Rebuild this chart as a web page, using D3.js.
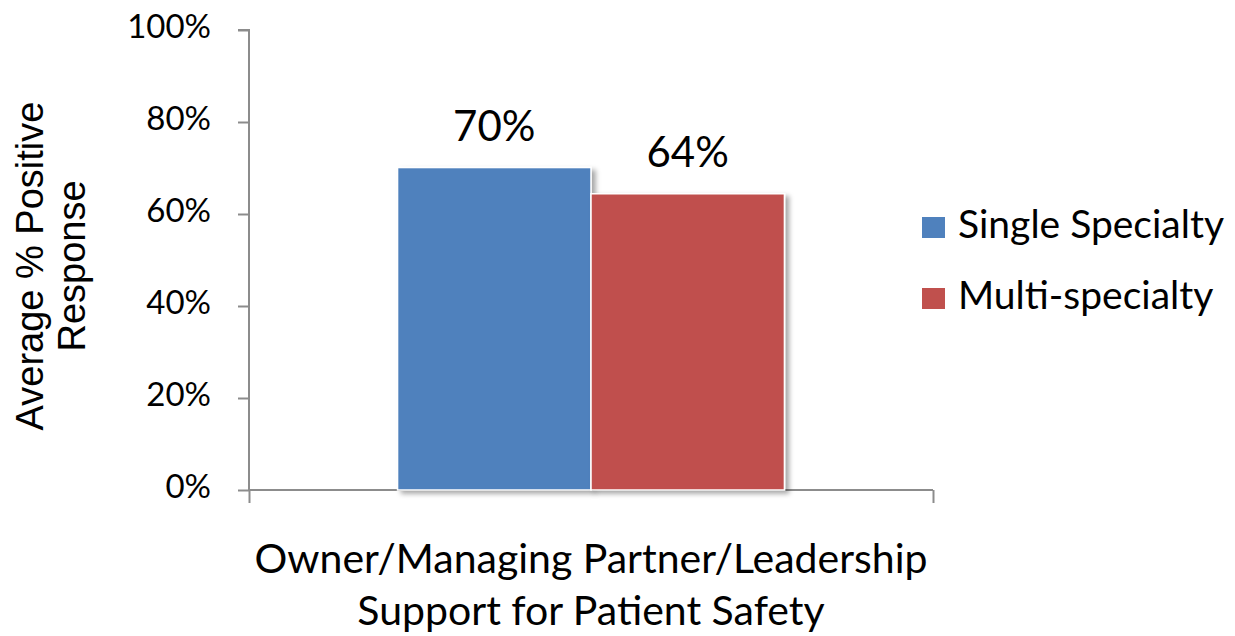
<!DOCTYPE html>
<html>
<head>
<meta charset="utf-8">
<script src="https://cdn.jsdelivr.net/npm/d3@7"></script>
<style>
  body { margin: 0; background: #fff; }
  text { font-family: Lato, "Open Sans", sans-serif; fill: #000; }
</style>
</head>
<body>
<div id="chart"></div>
<script>
var svgWidth = 1235;
var svgHeight = 636;

// data
var categories = ["Owner/Managing Partner/Leadership|Support for Patient Safety"];
var seriesNames = ["Single Specialty", "Multi-specialty"];
var seriesColors = ["#4f81bd", "#c0504d"];
var singleValues = [70.1];
var multiValues = [64.4];
var yTicks = [0, 20, 40, 60, 80, 100];

var margin = { top: 30, right: 302, bottom: 146, left: 249 };
var width = svgWidth - margin.left - margin.right;
var height = svgHeight - margin.top - margin.bottom;

var svg = d3.select("#chart")
  .append("svg")
  .attr("width", svgWidth)
  .attr("height", svgHeight);

var defs = svg.append("defs");
var shadow = defs.append("filter")
  .attr("id", "shadow")
  .attr("x", "-10%").attr("y", "-10%")
  .attr("width", "130%").attr("height", "130%");
shadow.append("feDropShadow")
  .attr("dx", 4).attr("dy", 3)
  .attr("stdDeviation", 2.5)
  .attr("flood-color", "#000")
  .attr("flood-opacity", 0.35);

var chartGroup = svg.append("g")
  .attr("transform", `translate(${margin.left}, ${margin.top})`);

var yScale = d3.scaleLinear()
  .domain([0, 100])
  .range([height, 0]);

var x0 = d3.scaleBand()
  .domain(categories)
  .range([0, width])
  .paddingInner(0)
  .paddingOuter(0.384);

var x1 = d3.scaleBand()
  .domain(seriesNames)
  .range([0, x0.bandwidth()])
  .padding(0);

// y axis
var leftAxis = d3.axisLeft(yScale)
  .tickValues(yTicks)
  .tickSize(11)
  .tickPadding(27)
  .tickFormat(d => d + "%");

var yAxisG = chartGroup.append("g").call(leftAxis);
yAxisG.select(".domain").attr("stroke", "#8c8c8c").attr("stroke-width", 2)
  .attr("d", `M-11,0H0V${height}`);
yAxisG.selectAll(".tick line").attr("stroke", "#8c8c8c").attr("stroke-width", 2);
yAxisG.selectAll(".tick text")
  .style("font-size", "33px")
  .style("font-family", "Lato, sans-serif")
  .attr("dy", "0.22em")
  .attr("fill", "#000");

// x axis
var bottomAxis = d3.axisBottom(d3.scaleLinear().domain([0, 1]).range([0, width]))
  .tickValues([0, 1])
  .tickSize(13)
  .tickFormat("");
var xAxisG = chartGroup.append("g")
  .attr("transform", `translate(0, ${height})`)
  .call(bottomAxis);
xAxisG.select(".domain").attr("stroke", "#8c8c8c").attr("stroke-width", 2)
  .attr("d", `M0,0H${width}`);
xAxisG.selectAll(".tick line").attr("stroke", "#8c8c8c").attr("stroke-width", 2);

// bars
var rows = categories.map((c, i) => ({
  cat: c,
  vals: [singleValues[i], multiValues[i]]
}));

var catGroups = chartGroup.selectAll(".cat")
  .data(rows)
  .enter()
  .append("g")
  .attr("class", "cat")
  .attr("transform", d => `translate(${x0(d.cat)},0)`);

catGroups.selectAll("rect")
  .data(d => d.vals.map((v, j) => ({ name: seriesNames[j], value: v, color: seriesColors[j] })))
  .enter()
  .append("rect")
  .attr("x", d => x1(d.name))
  .attr("y", d => yScale(d.value))
  .attr("width", x1.bandwidth())
  .attr("height", d => height - yScale(d.value))
  .attr("fill", d => d.color)
  .attr("stroke", "#fff")
  .attr("stroke-width", 1.5)
  .attr("filter", "url(#shadow)");

catGroups.selectAll(".val")
  .data(d => d.vals.map((v, j) => ({ name: seriesNames[j], value: v })))
  .enter()
  .append("text")
  .attr("class", "val")
  .attr("x", d => x1(d.name) + x1.bandwidth() / 2)
  .attr("y", d => yScale(d.value) - 27)
  .attr("text-anchor", "middle")
  .style("font-size", "42px")
  .text(d => Math.round(d.value) + "%");

// category label (two lines)
chartGroup.selectAll(".catlabel")
  .data(rows)
  .enter()
  .append("text")
  .attr("class", "catlabel")
  .attr("text-anchor", "middle")
  .style("font-size", "41px")
  .attr("transform", d => `translate(${x0(d.cat) + x0.bandwidth() / 2}, ${573 - margin.top})`)
  .selectAll("tspan")
  .data(d => d.cat.split("|"))
  .enter()
  .append("tspan")
  .attr("x", 0)
  .attr("dy", (d, i) => i === 0 ? 0 : 52)
  .text(d => d);

// y axis title
svg.append("text")
  .attr("transform", "translate(43, 266) rotate(-90)")
  .attr("text-anchor", "middle")
  .style("font-family", "'Liberation Sans', Arial, sans-serif")
  .style("font-size", "38px")
  .selectAll("tspan")
  .data(["Average % Positive", "Response"])
  .enter()
  .append("tspan")
  .attr("x", 0)
  .attr("dy", (d, i) => i === 0 ? 0 : 42)
  .text(d => d);

// legend
var legend = svg.append("g")
  .attr("transform", "translate(922, 217)");
var legendItems = legend.selectAll("g")
  .data(seriesNames)
  .enter()
  .append("g")
  .attr("transform", (d, i) => `translate(0, ${i * 71})`);
legendItems.append("rect")
  .attr("width", 23)
  .attr("height", 21)
  .attr("fill", (d, i) => seriesColors[i]);
legendItems.append("text")
  .attr("x", 36)
  .attr("y", 21)
  .style("font-size", "39px")
  .text(d => d);
</script>
</body>
</html>
